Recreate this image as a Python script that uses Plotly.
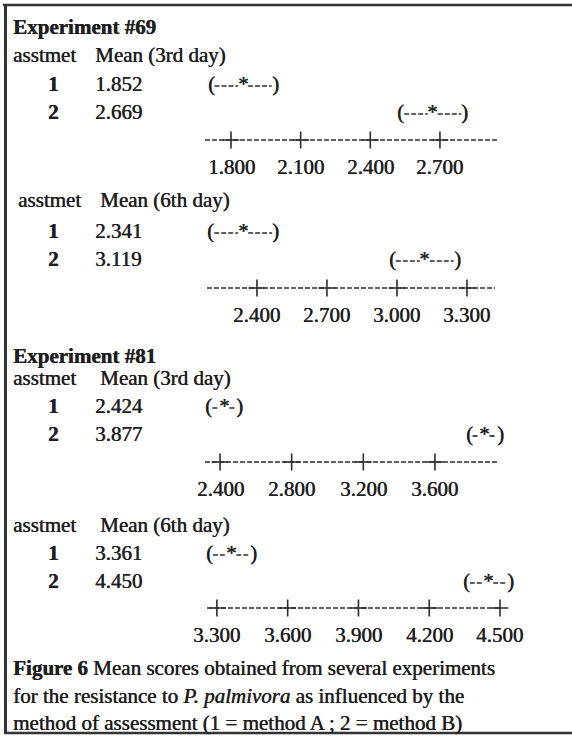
import plotly.graph_objects as go

# ---------------- data ----------------
experiments = ["Experiment #69", "Experiment #81"]
day_headings = ["Mean (3rd day)", "Mean (6th day)", "Mean (3rd day)", "Mean (6th day)"]
methods = ["1", "2"]

means_69_d3 = [1.852, 2.669]
means_69_d6 = [2.341, 3.119]
means_81_d3 = [2.424, 3.877]
means_81_d6 = [3.361, 4.450]

# half width of each confidence interval (pooled)
half_widths = [0.123, 0.124, 0.067, 0.078]

ticks_69_d3 = [1.8, 2.1, 2.4, 2.7]
ticks_69_d6 = [2.4, 2.7, 3.0, 3.3]
ticks_81_d3 = [2.4, 2.8, 3.2, 3.6]
ticks_81_d6 = [3.3, 3.6, 3.9, 4.2, 4.5]

labels_69_d3 = ["1.800", "2.100", "2.400", "2.700"]
labels_69_d6 = ["2.400", "2.700", "3.000", "3.300"]
labels_81_d3 = ["2.400", "2.800", "3.200", "3.600"]
labels_81_d6 = ["3.300", "3.600", "3.900", "4.200", "4.500"]

# extent of each dashed scale line
axis_ranges = [[1.688, 2.950], [2.186, 3.420], [2.316, 3.952], [3.258, 4.500]]

caption = [
    "<b>Figure 6</b> Mean scores obtained from several experiments",
    "for the resistance to <i>P. palmivora</i> as influenced by the",
    "method of assessment (1 = method A ; 2 = method B)",
]

# ---------------- layout / style ----------------
W, H = 572, 736
FONT = "Liberation Serif"
FS = 21
TXT = "#1e1e1e"
LINE = "#2e2e2e"
SHADOW = "0.5px 0px 0px #1e1e1e"

panel_means = [means_69_d3, means_69_d6, means_81_d3, means_81_d6]
panel_ticks = [ticks_69_d3, ticks_69_d6, ticks_81_d3, ticks_81_d6]
panel_labels = [labels_69_d3, labels_69_d6, labels_81_d3, labels_81_d6]

# pixel geometry (positions only)
axis_px = [(205, 498), (207, 495), (205, 498), (207, 500)]
exp_title_y = [27, 356]
heading_y = [55, 200, 378, 525]
heading_x = [(13, 95), (18, 100), (13, 100), (13, 100)]
row_y = [(84, 112), (231, 259), (406, 434), (553, 581)]
axis_y = [140, 288, 462, 608]
ticklab_y = [167, 315, 489, 635]
caption_y = [668, 696, 723]
PAD = 0.2  # extra axis room so nothing is clipped

fig = go.Figure()
annotations = []
shapes = []


def ann(x, y, text, xref="paper", yref="paper", xanchor="left", bold=False):
    if xref == "paper":
        x = x / W
    if yref == "paper":
        y = 1 - y / H
    annotations.append(dict(
        x=x, y=y, xref=xref, yref=yref,
        text=("<b>%s</b>" % text) if bold else text,
        showarrow=False, xanchor=xanchor, yanchor="middle",
        borderpad=0, borderwidth=0,
        font=dict(family=FONT, size=FS, color=TXT, shadow=SHADOW),
    ))


ann(13, exp_title_y[0], experiments[0], bold=True)
ann(13, exp_title_y[1], experiments[1], bold=True)

layout_axes = {}
dash_style = dict(color=LINE, width=1.7, dash="5px,2px")
for p in range(4):
    n = p + 2
    xname, yname = "x%d" % n, "y%d" % n
    lo, hi = axis_ranges[p]
    px0, px1 = axis_px[p]
    scale = (px1 - px0) / (hi - lo)
    rlo, rhi = lo - PAD, hi + PAD
    d0 = max(0.0, (px0 - PAD * scale) / W)
    d1 = min(1.0, (px1 + PAD * scale) / W)
    rlo = lo - (px0 - d0 * W) / scale
    rhi = hi + (d1 * W - px1) / scale
    layout_axes["xaxis%d" % n] = dict(domain=[d0, d1], range=[rlo, rhi], anchor=yname,
                                      visible=False, fixedrange=True)
    layout_axes["yaxis%d" % n] = dict(domain=[0, 1], range=[H, 0], anchor=xname,
                                      visible=False, fixedrange=True)

    ann(heading_x[p][0], heading_y[p], "asstmet")
    ann(heading_x[p][1], heading_y[p], day_headings[p])

    for r in range(2):
        yy = row_y[p][r]
        m = panel_means[p][r]
        hw = half_widths[p]
        ann(53, yy, methods[r], xanchor="center", bold=True)
        ann(95, yy, "%.3f" % m)
        gap = 5.0 / scale
        fig.add_trace(go.Scatter(
            x=[m - hw, m - gap, None, m + gap, m + hw],
            y=[yy + 2, yy + 2, None, yy + 2, yy + 2],
            xaxis=xname, yaxis=yname, mode="lines", line=dash_style,
            hoverinfo="skip", showlegend=False,
        ))
        ann(m - hw, yy, "(", xref=xname, yref=yname, xanchor="right")
        ann(m + hw, yy, ")", xref=xname, yref=yname, xanchor="left")
        ann(m, yy, "*", xref=xname, yref=yname, xanchor="center")

    fig.add_trace(go.Scatter(
        x=[lo, hi], y=[axis_y[p], axis_y[p]],
        xaxis=xname, yaxis=yname, mode="lines", line=dash_style,
        hoverinfo="skip", showlegend=False,
    ))
    fig.add_trace(go.Scatter(
        x=panel_ticks[p], y=[axis_y[p]] * len(panel_ticks[p]),
        xaxis=xname, yaxis=yname, mode="markers",
        marker=dict(symbol="cross-thin", size=12, color=LINE,
                    line=dict(color=LINE, width=1.6)),
        hoverinfo="skip", showlegend=False, cliponaxis=False,
    ))
    for t, lab in zip(panel_ticks[p], panel_labels[p]):
        ann(t, ticklab_y[p], lab, xref=xname, yref=yname, xanchor="center")

for i, line in enumerate(caption):
    ann(13, caption_y[i], line)

frame = dict(color="#333333")
shapes.append(dict(type="line", xref="paper", yref="paper", x0=3 / W, x1=1,
                   y0=1 - 5 / H, y1=1 - 5 / H, line=dict(frame, width=2.5)))
shapes.append(dict(type="line", xref="paper", yref="paper", x0=5.5 / W, x1=5.5 / W,
                   y0=1 - 4 / H, y1=1 - 734 / H, line=dict(frame, width=3)))
shapes.append(dict(type="line", xref="paper", yref="paper", x0=4 / W, x1=1,
                   y0=1 - 733 / H, y1=1 - 733 / H, line=dict(frame, width=2.5)))

fig.update_layout(
    width=W, height=H,
    margin=dict(l=0, r=0, t=0, b=0),
    paper_bgcolor="white", plot_bgcolor="rgba(0,0,0,0)",
    showlegend=False,
    annotations=annotations,
    shapes=shapes,
    **layout_axes,
)

fig.write_html(
    "out.html",
    config={"displayModeBar": False},
    post_script="document.body.style.margin='0px';document.body.style.padding='0px';",
)
